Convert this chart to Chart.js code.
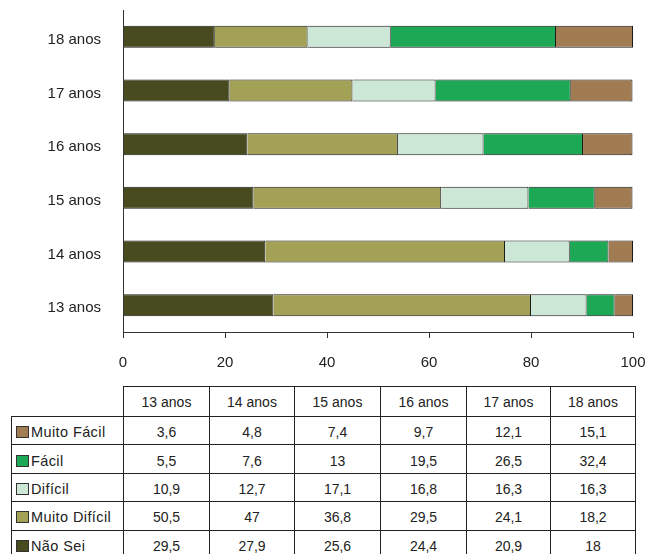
<!DOCTYPE html>
<html>
<head>
<meta charset="utf-8">
<script src="https://cdn.jsdelivr.net/npm/chart.js@4"></script>
<style>
  html, body { margin: 0; padding: 0; background: #fff; }
  #wrap { position: relative; width: 650px; height: 554px; overflow: hidden; }
  #c { position: absolute; left: 0; top: 0; }
  #tbl { position: absolute; left: 11px; top: 386px; border-collapse: collapse; table-layout: fixed;
         font-family: "Liberation Sans", Arial, Helvetica, sans-serif; font-size: 14px; color: #222; }
  #tbl td { border: 1px solid #222; padding: 0; text-align: center; vertical-align: middle; white-space: nowrap; }
  #tbl td.corner { border-top: none; border-left: none; }
  #tbl tr.hdr td { height: 28px; padding-top: 1px; }
  #tbl tr.row td { height: 24.4px; padding-top: 3px; }
  #tbl td.lbl { text-align: left; padding-left: 4px; font-size: 14.5px; letter-spacing: 0.4px; }
  .sw { display: inline-block; width: 11px; height: 10px; border: 1px solid #333; margin-right: 2px; vertical-align: -1px; }
</style>
</head>
<body>
<div id="wrap">
  <canvas id="c" width="650" height="380"></canvas>
  <table id="tbl"></table>
</div>
<script>
const categories = ['13 anos', '14 anos', '15 anos', '16 anos', '17 anos', '18 anos'];
const naoSei       = [29.5, 27.9, 25.6, 24.4, 20.9, 18];
const muitoDificil = [50.5, 47, 36.8, 29.5, 24.1, 18.2];
const dificil      = [10.9, 12.7, 17.1, 16.8, 16.3, 16.3];
const facil        = [5.5, 7.6, 13, 19.5, 26.5, 32.4];
const muitoFacil   = [3.6, 4.8, 7.4, 9.7, 12.1, 15.1];
const xTicks = [0, 20, 40, 60, 80, 100];

const series = [
  { label: 'Não Sei', data: naoSei, color: '#474B1F' },
  { label: 'Muito Difícil', data: muitoDificil, color: '#A3A155' },
  { label: 'Difícil', data: dificil, color: '#CCE7D6' },
  { label: 'Fácil', data: facil, color: '#1CA854' },
  { label: 'Muito Fácil', data: muitoFacil, color: '#A17C53' }
];

const fmt = v => String(v).replace('.', ',');

new Chart(document.getElementById('c'), {
  type: 'bar',
  data: {
    labels: categories,
    datasets: series.map(s => ({
      label: s.label,
      data: s.data,
      backgroundColor: s.color,
      borderColor: '#1a1a1a',
      borderWidth: 1,
      categoryPercentage: 1,
      barPercentage: 0.41
    }))
  },
  options: {
    indexAxis: 'y',
    responsive: false,
    animation: false,
    layout: { padding: { top: 10, right: 17, left: 0, bottom: 0 } },
    plugins: { legend: { display: false }, tooltip: { enabled: false } },
    scales: {
      x: {
        stacked: true, min: 0, max: 100,
        afterBuildTicks: sc => { sc.ticks = xTicks.map(v => ({ value: v })); },
        afterFit: sc => { sc.height = 48; sc.paddingLeft = 0; sc.paddingRight = 0; },
        grid: { display: true, drawOnChartArea: false, drawTicks: true, tickLength: 6, color: '#333' },
        border: { display: true, color: '#333', width: 1 },
        ticks: { color: '#222', padding: 16, font: { family: '"Liberation Sans", Arial, sans-serif', size: 15 } }
      },
      y: {
        stacked: true, reverse: true,
        afterFit: sc => { sc.width = 123; sc.paddingTop = 0; sc.paddingBottom = 0; },
        grid: { display: false, drawTicks: false },
        border: { display: true, color: '#333', width: 1 },
        ticks: { color: '#222', padding: 22, labelOffset: 3, font: { family: '"Liberation Sans", Arial, sans-serif', size: 15 } }
      }
    }
  }
});

// data table
const tbl = document.getElementById('tbl');
const cg = document.createElement('colgroup');
[112, 86, 85, 86, 86, 84, 85].forEach(w => { const c = document.createElement('col'); c.style.width = w + 'px'; cg.appendChild(c); });
tbl.appendChild(cg);
const hdr = document.createElement('tr'); hdr.className = 'hdr';
const corner = document.createElement('td'); corner.className = 'corner'; hdr.appendChild(corner);
categories.forEach(c => { const td = document.createElement('td'); td.textContent = c; hdr.appendChild(td); });
tbl.appendChild(hdr);
series.slice().reverse().forEach(s => {
  const tr = document.createElement('tr'); tr.className = 'row';
  const lt = document.createElement('td'); lt.className = 'lbl';
  const sw = document.createElement('span'); sw.className = 'sw'; sw.style.background = s.color;
  lt.appendChild(sw); lt.appendChild(document.createTextNode(s.label));
  tr.appendChild(lt);
  s.data.forEach(v => { const td = document.createElement('td'); td.textContent = fmt(v); tr.appendChild(td); });
  tbl.appendChild(tr);
});
</script>
</body>
</html>
